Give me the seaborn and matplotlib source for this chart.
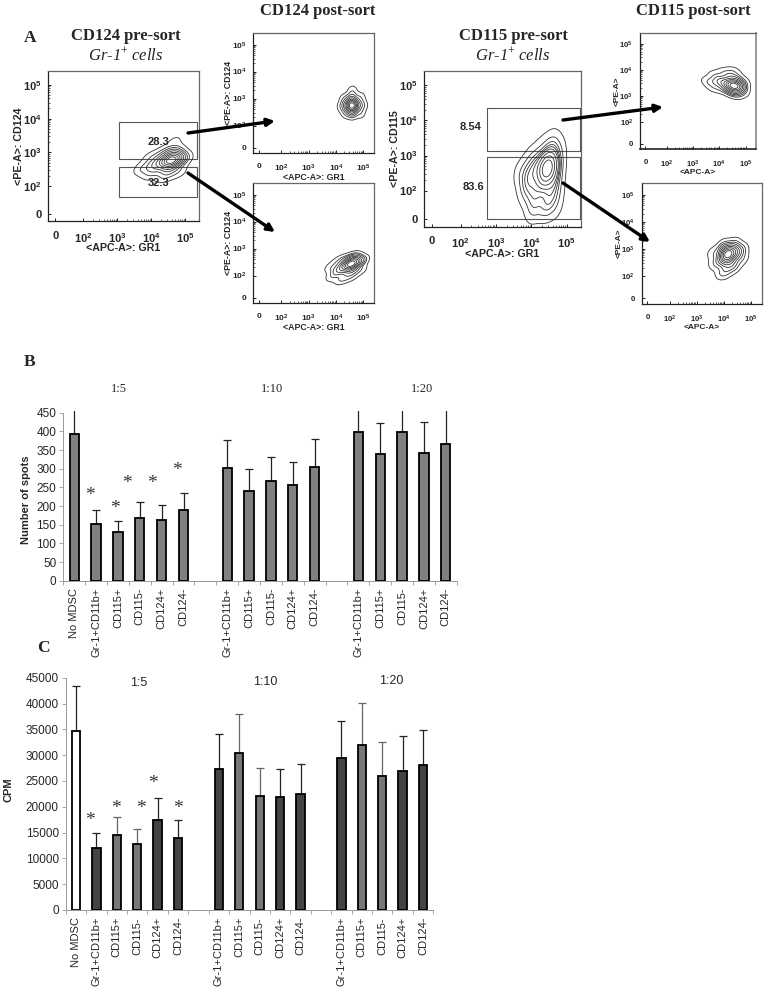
import numpy as np
import pandas as pd
import matplotlib
matplotlib.use('Agg')
import matplotlib.pyplot as plt
from matplotlib.patches import Rectangle, FancyArrowPatch
import seaborn as sn

sn.set_style('white')
plt.rcParams['font.family'] = ['Liberation Sans', 'DejaVu Sans']
plt.rcParams['mathtext.fontset'] = 'custom'
plt.rcParams['mathtext.bf'] = 'Liberation Sans:bold'
plt.rcParams['mathtext.it'] = 'Liberation Serif:italic'
plt.rcParams['mathtext.rm'] = 'Liberation Serif'

W, H = 766, 992

# bar chart data
tick_names = ['No MDSC', 'Gr-1+CD11b+', 'CD115+', 'CD115-', 'CD124+', 'CD124-', '',
              'Gr-1+CD11b+', 'CD115+', 'CD115-', 'CD124+', 'CD124-', '',
              'Gr-1+CD11b+', 'CD115+', 'CD115-', 'CD124+', 'CD124-']
slots = [0, 1, 2, 3, 4, 5, 7, 8, 9, 10, 11, 13, 14, 15, 16, 17]

spots = [393, 151, 131, 167, 162, 189, 301, 239, 268, 256, 304, 399, 340, 399, 343, 367]
spots_top = [470, 188, 161, 211, 202, 236, 376, 300, 330, 319, 379, 470, 423, 470, 426, 470]
spots_star_x = [0.7, 1.87, 2.4, 3.56, 4.72]
spots_star_y = [228, 194, 261, 261, 295]

cpm = [34700, 12100, 14500, 12800, 17350, 14000, 27400, 30450, 22100, 21900, 22450,
       29400, 32000, 26000, 27000, 28050]
cpm_top = [43300, 15000, 18000, 15750, 21600, 17500, 34100, 38050, 27500, 27400, 28200,
           36700, 40100, 32450, 33800, 34950]
cpm_star_x = [0.69, 1.94, 3.16, 3.75, 4.99]
cpm_star_y = [17300, 19700, 19700, 24500, 19700]

cpm_colors = ['white', '#444444', '#777777', '#777777', '#444444', '#444444',
              '#444444', '#777777', '#777777', '#444444', '#444444',
              '#444444', '#777777', '#777777', '#444444', '#444444']

# flow panels: density, core, middle and outer points (decades on the axes)
pre124_x = [4.6, 4.8, 4.6, 4.4, 4.55, 4.15, 4.7, 4.72, 4.95, 4.8, 4.4, 4.0, 3.75, 4.0, 4.35]
pre124_y = [2.77, 2.8, 3.0, 2.75, 2.55, 2.65, 3.35, 3.0, 2.8, 2.42, 2.3, 2.38, 2.52, 2.85, 3.0]
pre124_w = [0.3, 0.07, 0.06, 0.08, 0.07, 0.07, 0.02, 0.03, 0.03, 0.03, 0.04, 0.04, 0.04, 0.03, 0.03]

post124a_x = [4.58, 4.58, 4.4, 4.58, 4.78, 4.6, 4.3, 4.2, 4.35, 4.6, 4.9, 5.0, 4.9]
post124a_y = [2.75, 3.0, 2.75, 2.55, 2.75, 3.3, 3.0, 2.7, 2.45, 2.4, 2.45, 2.75, 3.05]
post124a_w = [0.36, 0.09, 0.09, 0.09, 0.09, 0.035, 0.035, 0.035, 0.035, 0.035, 0.035, 0.035, 0.035]

post124b_x = [4.55, 4.75, 4.35, 4.55, 4.6, 4.1, 4.3, 4.65, 4.95, 4.9, 4.55, 4.2, 3.85, 3.8, 4.05]
post124b_y = [2.42, 2.5, 2.4, 2.2, 2.6, 2.2, 2.62, 2.72, 2.55, 2.2, 1.95, 1.85, 1.95, 2.3, 2.55]
post124b_w = [0.28, 0.08, 0.08, 0.07, 0.06, 0.07, 0.03, 0.03, 0.04, 0.03, 0.03, 0.04, 0.03, 0.03, 0.02]

pre115_x = [4.45, 4.7, 4.55, 4.2, 4.35, 3.95, 4.65, 4.6, 4.3, 4.8, 4.0, 3.7, 3.85, 4.1, 4.5, 4.7, 4.05, 4.4, 4.7]
pre115_y = [2.65, 2.7, 3.0, 2.7, 2.3, 2.4, 2.3, 3.4, 3.25, 3.2, 2.9, 2.5, 2.0, 1.9, 1.8, 1.95, 1.45, 1.5, 1.5]
pre115_w = [0.22, 0.06, 0.05, 0.06, 0.07, 0.06, 0.05, 0.03, 0.02, 0.02, 0.03, 0.03, 0.04, 0.05, 0.04, 0.03, 0.04, 0.04, 0.02]

post115a_x = [4.58, 4.75, 4.4, 4.5, 4.5, 4.05, 4.2, 4.55, 4.85, 4.85, 4.6, 4.2, 3.8, 3.6, 3.85]
post115a_y = [3.38, 3.45, 3.45, 3.2, 3.7, 3.55, 3.9, 3.95, 3.6, 3.15, 3.05, 3.25, 3.3, 3.55, 3.8]
post115a_w = [0.3, 0.07, 0.08, 0.07, 0.06, 0.08, 0.03, 0.03, 0.03, 0.03, 0.03, 0.03, 0.03, 0.04, 0.03]

post115b_x = [4.15, 4.45, 4.0, 4.3, 3.95, 4.2, 4.0, 4.4, 4.7, 4.7, 4.4, 4.1, 3.9, 3.65, 3.6]
post115b_y = [2.8, 2.85, 2.95, 3.0, 2.6, 2.5, 3.15, 3.2, 3.0, 2.65, 2.35, 2.15, 2.1, 2.45, 2.85]
post115b_w = [0.26, 0.1, 0.06, 0.05, 0.07, 0.07, 0.03, 0.03, 0.03, 0.03, 0.04, 0.03, 0.03, 0.03, 0.03]


def px_axes(fig, left, top, right, bottom):
    return fig.add_axes([left / W, 1 - bottom / H, (right - left) / W, (bottom - top) / H])


def px_text(fig, x, y, s, **kw):
    fig.text(x / W, 1 - y / H, s, ha='center', va='center', **kw)


def flow_panel(fig, box, xs, ys, ws, xlabel, ylabel, size, bw, label_size):
    ax = px_axes(fig, *box)
    sn.kdeplot(x=xs, y=ys, weights=ws, levels=10, thresh=0.05, bw_adjust=bw, gridsize=200,
               cut=4, color='#333333', linewidths=0.6, ax=ax)
    ax.set_xlim(0.97, 5.4)
    ax.set_ylim(0.97, 5.42)
    ticks = [1.18, 2, 3, 4, 5]
    labels = ['0', r'$\mathbf{10^{2}}$', r'$\mathbf{10^{3}}$', r'$\mathbf{10^{4}}$', r'$\mathbf{10^{5}}$']
    ax.set_xticks(ticks, labels, fontsize=size, fontweight='bold')
    ax.set_yticks(ticks, labels, fontsize=size, fontweight='bold')
    ax.tick_params(axis='both', which='major', direction='in', length=2.5, width=0.7, color='#222222')
    ax.tick_params(axis='x', which='major', pad=7)
    ax.tick_params(axis='y', which='major', pad=5)
    minor = np.concatenate([np.log10(np.arange(2, 10)) + d for d in [2, 3, 4]])
    ax.set_xticks(minor, minor=True)
    ax.set_yticks(minor, minor=True)
    ax.tick_params(axis='both', which='minor', direction='in', length=1.2, width=0.5, color='#222222')
    ax.tick_params(bottom=True, left=True, which='both')
    ax.set_xlabel(xlabel, fontsize=label_size, fontweight='bold', labelpad=-1)
    ax.set_ylabel(ylabel, fontsize=label_size, fontweight='bold', labelpad=-1)
    for s in ax.spines.values():
        s.set_color('#666666')
        s.set_linewidth(0.9)
    ax.spines['left'].set_color('#222222')
    ax.spines['bottom'].set_color('#222222')
    return ax


def gate(ax, x0, y0, x1, y1):
    ax.add_patch(Rectangle((x0, y0), x1 - x0, y1 - y0, fill=False, ec='#555555', lw=0.8))


def bar_panel(ax, values, tops, colors, width, star_x, star_y, star_size):
    df = pd.DataFrame({'slot': slots, 'value': values})
    sn.barplot(data=df, x='slot', y='value', order=list(range(18)), hue='slot',
               palette=dict(zip(slots, colors)), legend=False, width=width, errorbar=None,
               edgecolor='black', linewidth=1.3, saturation=1, zorder=3, ax=ax)
    for s, v, t, c in zip(slots, values, tops, colors):
        ec = '#666666' if c == '#777777' else '#222222'
        ax.errorbar(s, v, yerr=[[0], [t - v]], fmt='none', ecolor=ec, elinewidth=0.9,
                    capsize=3.2, capthick=0.9, zorder=2)
    ax.set_xlim(-0.5, 17.5)
    ax.set_xticks(range(18), tick_names, rotation=90, fontsize=8)
    ax.set_xticks(np.arange(-0.5, 18), minor=True)
    ax.tick_params(axis='x', which='major', length=0, pad=5)
    ax.tick_params(axis='x', which='minor', length=3, width=0.6, color='#999999', bottom=True)
    ax.tick_params(axis='y', length=3, width=0.6, color='#999999', left=True, labelsize=8.5, pad=2)
    for s in ['top', 'right']:
        ax.spines[s].set_visible(False)
    for s in ['left', 'bottom']:
        ax.spines[s].set_color('#999999')
        ax.spines[s].set_linewidth(0.7)
    for x, y in zip(star_x, star_y):
        ax.text(x, y, '*', ha='center', va='center', fontsize=star_size, color='#333333', family='Liberation Serif')


fig = plt.figure(figsize=(W / 100, H / 100), dpi=100, facecolor='white')

# panel A
a1 = flow_panel(fig, (48.3, 70.7, 198.7, 221), pre124_x, pre124_y, pre124_w, '<APC-A>: GR1', '<PE-A>: CD124', 8, 0.9, 7.7)
gate(a1, 3.06, 2.81, 5.34, 3.89)
gate(a1, 3.04, 1.68, 5.34, 2.58)
a1.text(4.23, 3.31, '28.3', ha='center', va='center', fontsize=8, fontweight='bold')
a1.text(4.23, 2.1, '32.3', ha='center', va='center', fontsize=8, fontweight='bold')

flow_panel(fig, (253.3, 33.3, 374.3, 153.3), post124a_x, post124a_y, post124a_w, '<APC-A>: GR1', '<PE-A>: CD124', 6, 0.9, 6.3)
flow_panel(fig, (253.3, 183.3, 374.3, 303.3), post124b_x, post124b_y, post124b_w, '<APC-A>: GR1', '<PE-A>: CD124', 6, 0.9, 6.3)

a4 = flow_panel(fig, (424.3, 70.7, 580.7, 226.7), pre115_x, pre115_y, pre115_w, '<APC-A>: GR1', '<PE-A>: CD115', 8, 0.85, 7.7)
gate(a4, 2.75, 3.12, 5.39, 4.37)
gate(a4, 2.75, 1.2, 5.39, 2.96)
a4.text(2.29, 3.8, '8.54', ha='center', va='center', fontsize=8, fontweight='bold')
a4.text(2.37, 2.11, '83.6', ha='center', va='center', fontsize=8, fontweight='bold')

a5 = flow_panel(fig, (640, 32.7, 756, 149), post115a_x, post115a_y, post115a_w, '<APC-A>', '<PE-A>', 5.6, 0.9, 6)
a5.spines['right'].set_color('#999999')
a5.spines['right'].set_linewidth(1.4)
a5.spines['bottom'].set_linewidth(1.2)
flow_panel(fig, (641.7, 183.3, 761.7, 304), post115b_x, post115b_y, post115b_w, '<APC-A>', '<PE-A>', 5.6, 0.9, 6)

for (x0, y0, x1, y1) in [(188, 133, 275, 121), (188, 173, 275, 232), (563, 120, 663, 107), (563, 183, 650, 242)]:
    fig.add_artist(FancyArrowPatch((x0 / W, 1 - y0 / H), (x1 / W, 1 - y1 / H), transform=fig.transFigure,
                                   arrowstyle='-|>', mutation_scale=11, lw=2.4, color='black', shrinkA=0, shrinkB=0))

serif = 'Liberation Serif'
px_text(fig, 318, 11, 'CD124 post-sort', family=serif, fontweight='bold', fontsize=12)
px_text(fig, 693, 11, 'CD115 post-sort', family=serif, fontweight='bold', fontsize=12)
px_text(fig, 126, 36, 'CD124 pre-sort', family=serif, fontweight='bold', fontsize=12)
px_text(fig, 513, 36, 'CD115 pre-sort', family=serif, fontweight='bold', fontsize=12)
px_text(fig, 126, 55, 'Gr-1$^{+}$ cells', family=serif, style='italic', fontsize=12, color='#222222')
px_text(fig, 513, 55, 'Gr-1$^{+}$ cells', family=serif, style='italic', fontsize=12, color='#222222')
px_text(fig, 30, 38, 'A', family=serif, fontweight='bold', fontsize=12.5)
px_text(fig, 30, 362, 'B', family=serif, fontweight='bold', fontsize=12.5)
px_text(fig, 43, 648, 'C', family=serif, fontweight='bold', fontsize=12.5)

# panel B
ax_b = px_axes(fig, 63.3, 410.8, 456.7, 580.7)
bar_panel(ax_b, spots, spots_top, ['#808080'] * 16, 0.43, spots_star_x, spots_star_y, 14)
ax_b.set_ylim(0, 455)
ax_b.set_yticks(range(0, 451, 50))
ax_b.spines['left'].set_bounds(0, 450)
ax_b.set_xlabel('')
ax_b.set_ylabel('')
px_text(fig, 26, 500, 'Number of spots', rotation=90, fontweight='bold', fontsize=8)
for x, s in zip([118.7, 272, 422], ['1:5', '1:10', '1:20']):
    px_text(fig, x, 389, s, family=serif, fontsize=9)

# panel C
ax_c = px_axes(fig, 65.7, 677.7, 433.3, 910)
bar_panel(ax_c, cpm, cpm_top, cpm_colors, 0.41, cpm_star_x, cpm_star_y, 14)
ax_c.set_ylim(0, 45000)
ax_c.set_yticks(range(0, 45001, 5000))
ax_c.set_xlabel('')
ax_c.set_ylabel('')
px_text(fig, 9, 790, 'CPM', rotation=90, fontweight='bold', fontsize=8)
for x, y, s in zip([139, 265, 391], [683, 682, 681], ['1:5', '1:10', '1:20']):
    px_text(fig, x, y, s, fontsize=9)

plt.savefig('out.png', dpi=100)
